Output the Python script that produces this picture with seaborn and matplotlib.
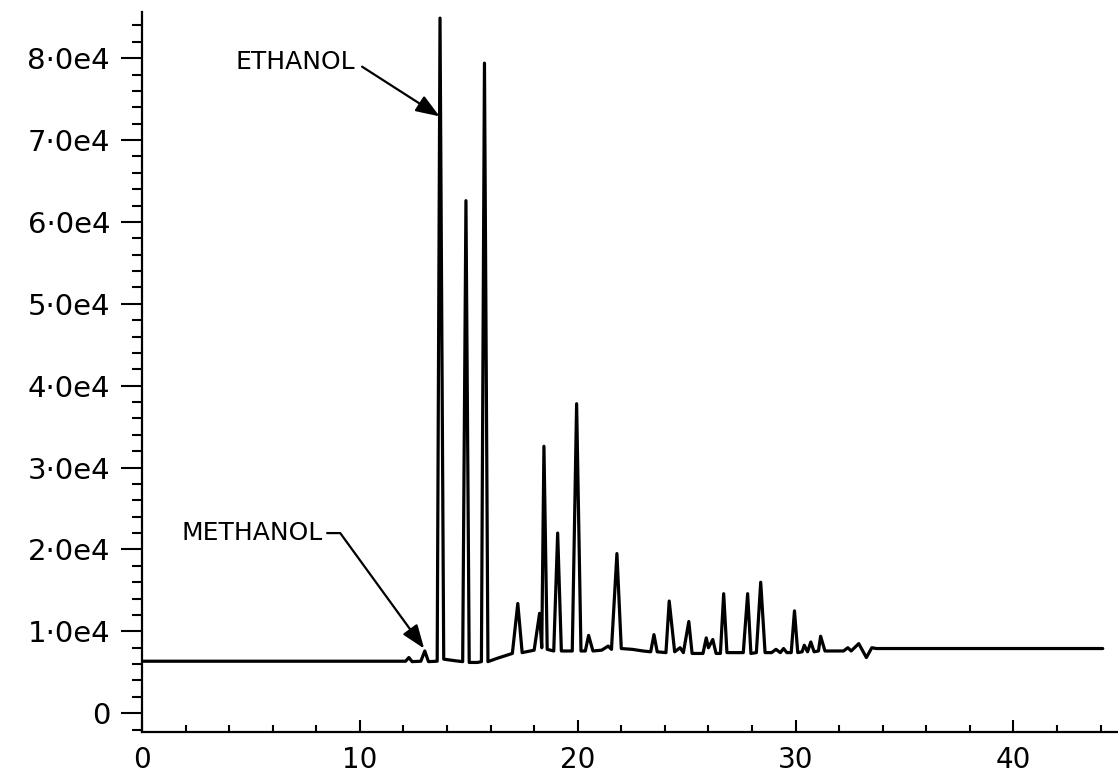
import numpy as np
import pandas as pd
import matplotlib
matplotlib.use("Agg")
import matplotlib.pyplot as plt
from matplotlib.ticker import MultipleLocator, FixedLocator, FixedFormatter
import seaborn as sns

# trace: retention time (min) and detector signal
time_min = [
    0.0, 11.9, 12.1, 12.25, 12.4, 12.8, 12.98, 13.15, 13.55, 13.68, 13.85,
    14.4, 14.72, 14.87, 15.02, 15.4, 15.58, 15.72, 15.88, 16.3, 17.0, 17.25,
    17.45, 18.0, 18.25, 18.35, 18.45, 18.6, 18.9, 19.08, 19.25, 19.75, 19.95,
    20.15, 20.35, 20.5, 20.7, 21.1, 21.4, 21.55, 21.8, 22.0, 22.5, 23.0,
    23.35, 23.5, 23.65, 24.05, 24.2, 24.45, 24.7, 24.85, 25.1, 25.25, 25.75,
    25.9, 26.0, 26.2, 26.35, 26.55, 26.7, 26.85, 27.6, 27.8, 27.95, 28.2,
    28.4, 28.6, 28.9, 29.1, 29.3, 29.45, 29.6, 29.8, 29.95, 30.1, 30.3, 30.4,
    30.55, 30.7, 30.85, 31.05, 31.15, 31.35, 32.2, 32.4, 32.55, 32.9, 33.25,
    33.5, 33.7, 44.1,
]
signal = [
    6350, 6350, 6350, 6800, 6300, 6350, 7600, 6300, 6350, 84900, 6600,
    6400, 6300, 62600, 6200, 6200, 6300, 79400, 6300, 6700, 7300, 13400,
    7400, 7700, 12200, 8000, 32600, 7800, 7600, 22000, 7600, 7600, 37800,
    7600, 7600, 9500, 7600, 7700, 8200, 7800, 19500, 7900, 7800, 7600,
    7500, 9600, 7500, 7400, 13700, 7500, 8000, 7400, 11200, 7300, 7300,
    9200, 8000, 9000, 7300, 7300, 14600, 7400, 7400, 14600, 7300, 7400,
    16000, 7400, 7400, 7800, 7400, 7900, 7400, 7400, 12500, 7400, 7500, 8300,
    7500, 8700, 7500, 7600, 9400, 7600, 7600, 8000, 7600, 8500, 6800,
    8000, 7900, 7900,
]

ytick_values = [0, 10000, 20000, 30000, 40000, 50000, 60000, 70000, 80000]
ytick_labels = ["0", "1·0e4", "2·0e4", "3·0e4", "4·0e4",
                "5·0e4", "6·0e4", "7·0e4", "8·0e4"]

# peak labels: (text, text position, arrow tip)
ethanol_label = ("ETHANOL", (4.3, 79500), (13.66, 72900))
methanol_label = ("METHANOL", (1.8, 22000), (12.95, 7900))

df = pd.DataFrame({"time": time_min, "signal": signal})

sns.set_style("ticks")
plt.rcParams["font.family"] = ["DejaVu Sans"]
plt.rcParams["text.color"] = "black"
plt.rcParams["xtick.color"] = "black"
plt.rcParams["ytick.color"] = "black"
plt.rcParams["axes.edgecolor"] = "black"

fig = plt.figure(figsize=(11.18, 7.74), dpi=100)
ax = fig.add_axes([0.127, 0.054, 0.873, 0.930])

sns.lineplot(data=df, x="time", y="signal", ax=ax, color="black",
             linewidth=2.3, estimator=None, sort=False)

ax.set_xlim(0, 44.8)
ax.set_ylim(-2320, 85600)
ax.set_xlabel("")
ax.set_ylabel("")

ax.xaxis.set_major_locator(MultipleLocator(10))
ax.xaxis.set_minor_locator(MultipleLocator(2))
ax.yaxis.set_major_locator(FixedLocator(ytick_values))
ax.yaxis.set_major_formatter(FixedFormatter(ytick_labels))
ax.yaxis.set_minor_locator(MultipleLocator(2000))

ax.tick_params(axis="x", which="major", direction="in", length=9, width=1.5,
               labelsize=20, pad=10)
ax.tick_params(axis="x", which="minor", direction="in", length=5, width=1.5)
ax.tick_params(axis="y", which="major", direction="out", length=15, width=1.5,
               labelsize=21, pad=8)
ax.tick_params(axis="y", which="minor", direction="out", length=7, width=1.5)

sns.despine(ax=ax, top=True, right=True)
for side in ("left", "bottom"):
    ax.spines[side].set_linewidth(1.6)

arrow = dict(arrowstyle="-|>,head_length=0.8,head_width=0.3", color="black",
             lw=1.6, shrinkA=3, shrinkB=0)
text, xytext, xy = ethanol_label
ax.annotate(text, xy=xy, xytext=xytext, ha="left", va="center", fontsize=18,
            arrowprops=dict(arrow, relpos=(1, 0.5)))
text, xytext, xy = methanol_label
ax.annotate(text, xy=xy, xytext=xytext, ha="left", va="center", fontsize=18,
            arrowprops=dict(arrow, relpos=(1, 0.5), shrinkA=1,
                            connectionstyle="angle,angleA=0,angleB=-54,rad=0"))

fig.savefig("out.png", dpi=100)
